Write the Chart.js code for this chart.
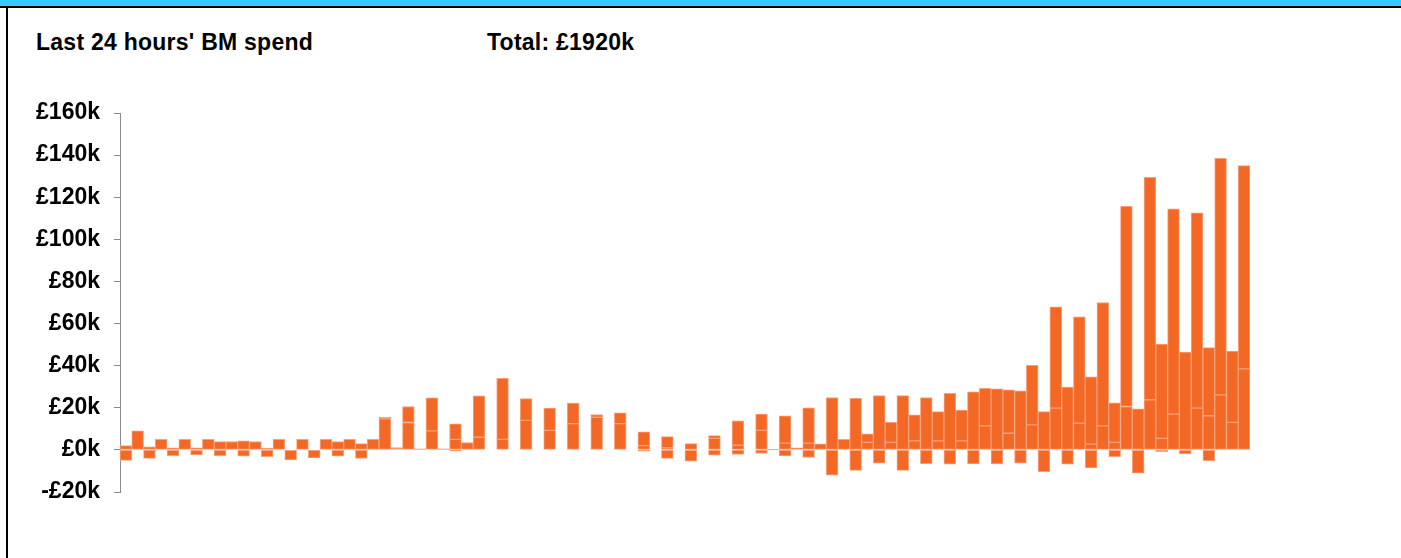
<!DOCTYPE html>
<html>
<head>
<meta charset="UTF-8">
<title>BM spend</title>
<script src="https://cdn.jsdelivr.net/npm/chart.js"></script>
<style>
  body { margin: 0; background: #fff; font-family: "Liberation Sans", Arial, sans-serif; }
  #frame { position: absolute; left: 0; top: 0; width: 1401px; height: 558px; overflow: hidden; }
  #banner { position: absolute; left: 0; top: 0; width: 1401px; height: 6px; background: #33ccff; border-bottom: 2px solid #000; }
  #leftline { position: absolute; left: 6px; top: 6px; width: 2px; height: 552px; background: #000; }
  .head { position: absolute; top: 29px; font-weight: bold; font-size: 23px; letter-spacing: 0.25px; color: #000; white-space: nowrap; }
  #chartbox { position: absolute; left: 0; top: 0; width: 1401px; height: 558px; }
</style>
</head>
<body>
<div id="frame">
  <div id="banner"></div>
  <div id="leftline"></div>
  <div class="head" style="left:36px">Last 24 hours' BM spend</div>
  <div class="head" style="left:487px">Total: £1920k</div>
  <div id="chartbox"><canvas id="spendChart"></canvas></div>
</div>
<script>
// values in £k, one entry per period (96 slots over the last 24 hours)
const posBase = [
  2, 9, 1.5, 5, 1, 5, 1, 5, 4, 4, 4.3, 4, 0.8, 5, null, 5,
  null, 5, 4, 5, 3, 5, 14.7, 1.1, 13, 0.5, 9, 0.5, 5, 3.5, 6, null,
  5, null, 14, null, 9.3, null, 12.5, null, 15.5, null, 12.5, null, 2, null, 1, null,
  3, null, 5.5, null, 2.2, null, 9.3, 0.3, 3.2, 1, 3.2, 2.9, 24.9, 5,
  24.5, 3.6, 25.8, 3.6, 25.8, 4.3, 24.9, 4.3, 26.9, 4.3, 27.6, 11.4, 29, 7.9, 28, 11.9,
  18.2, 19.8, 29.8, 12.7, 2.7, 11.4, 3.6, 20.6, 19.5, 23.8, 5.5, 17, 46.4, 19.8, 16.2, 26.1,
  13.1, 38.5
];
const posUpper = [
  null, null, null, null, null, null, null, null, null, null, null, null, null, null, null, null,
  null, null, null, null, null, null, 0.8, null, 7.6, null, 15.7, null, 7.4, null, 19.7, null,
  29, null, 10.4, null, 10.5, null, 9.7, null, 1.3, null, 5.1, null, 6.6, null, 5.3, null,
  null, null, 1.3, null, 11.6, null, 7.7, null, 13, null, 16.8, null, null, null,
  null, 4, null, 9.5, null, 12.3, null, 13.9, null, 14.6, null, 17.8, null, 20.6, null, 28.3,
  null, 48.2, null, 50.5, 32, 58.6, 18.7, 95.1, null, 105.6, 44.7, 97.5, null, 92.8, 32.4, 112.4,
  33.8, 96.5
];
const negative = [
  -5, null, -4, null, -2.7, null, -2.4, null, -2.7, null, -3, null, -3.2, null, -4.8, null,
  -3.8, null, -3, null, -4.1, null, null, null, null, null, null, null, -0.6, null, null, null,
  null, null, null, null, null, null, null, null, null, null, null, null, -0.6, null, -4, null,
  -5.3, null, -2.5, null, -2.2, null, -1.7, null, -2.9, null, -3.6, null, -12, null,
  -9.7, null, -6.3, null, -9.7, null, -6.5, null, -6.8, null, -6.7, null, -6.7, null, -6.3, null,
  -10.3, null, -6.8, null, -8.6, null, -3.2, null, -11.1, null, -0.8, null, -1.9, null, -5.1, null,
  null, null
];
const yTicks = [-20, 0, 20, 40, 60, 80, 100, 120, 140, 160];

const periods = [];
for (let i = 0; i < posBase.length; i++) {
  const m = i * 15;
  periods.push(String(Math.floor(m / 60)).padStart(2, '0') + ':' + String(m % 60).padStart(2, '0'));
}

const barFill = '#f36824';
const barEdge = 'rgba(248, 160, 122, 1)';

function series(name, values) {
  return {
    label: name,
    data: values,
    backgroundColor: barFill,
    borderColor: barEdge,
    borderWidth: 1,
    borderSkipped: false,
    stack: 'spend',
    categoryPercentage: 1,
    barPercentage: 1
  };
}

new Chart(document.getElementById('spendChart').getContext('2d'), {
  type: 'bar',
  data: {
    labels: periods,
    datasets: [
      series('base', posBase),
      series('upper', posUpper),
      series('negative', negative)
    ]
  },
  options: {
    responsive: true,
    maintainAspectRatio: false,
    animation: false,
    layout: { padding: { left: 0, top: 113, right: 151, bottom: 66 } },
    plugins: { legend: { display: false }, tooltip: { enabled: false } },
    scales: {
      x: { stacked: true, display: false },
      y: {
        stacked: true,
        min: -20,
        max: 160,
        afterBuildTicks: (axis) => { axis.ticks = yTicks.map(v => ({ value: v })); },
        afterFit: (axis) => { axis.width = 120; },
        border: { display: true, color: '#8a8a8a', width: 1 },
        grid: { drawOnChartArea: false, drawTicks: true, tickLength: 6, color: '#8a8a8a' },
        ticks: {
          padding: 14,
          color: '#000',
          font: { family: '"Liberation Sans", Arial, sans-serif', size: 23, weight: 'bold' },
          callback: (v) => (v < 0 ? '-' : '') + '£' + Math.abs(v) + 'k'
        }
      }
    }
  }
});
</script>
</body>
</html>
